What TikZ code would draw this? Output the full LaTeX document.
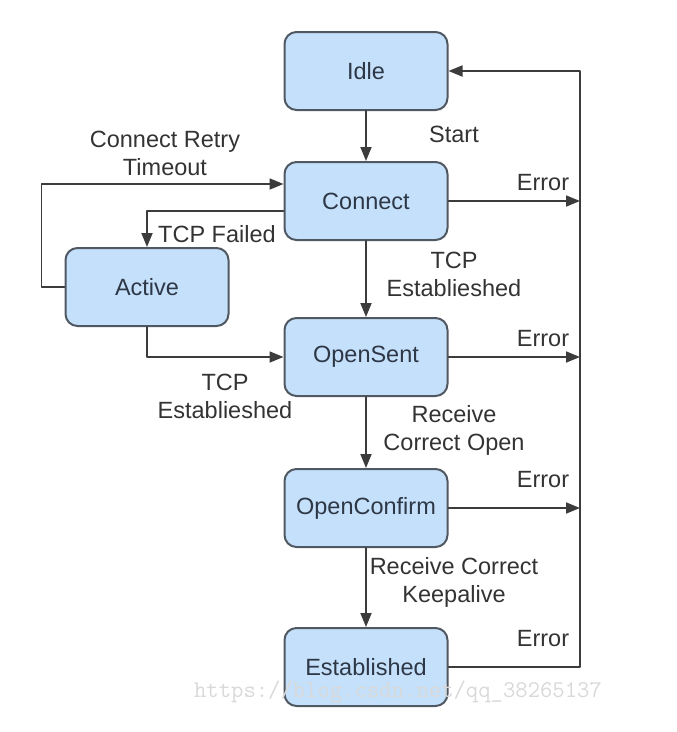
\documentclass[tikz,border=0pt]{standalone}
\usepackage{fontspec}
\setmainfont{Liberation Sans}
\usetikzlibrary{arrows.meta}
\usetikzlibrary{positioning}
\definecolor{boxfill}{RGB}{197,224,250}
\definecolor{boxline}{RGB}{80,88,98}
\definecolor{boxtext}{RGB}{45,55,70}
\definecolor{wire}{RGB}{60,60,60}
\tikzset{
  state/.style={draw=boxline,fill=boxfill,text=boxtext,line width=2pt,rounded corners=12pt,
    minimum width=163pt,minimum height=78pt,font=\fontsize{23.5}{28}\selectfont},
  lbl/.style={text=black!80,align=center,font=\fontsize{23.5}{28}\selectfont,inner sep=0pt},
  link/.style={draw=wire,line width=1.8pt,-{Triangle[length=14pt,width=11pt]}}
}

\begin{document}
\begin{tikzpicture}[line cap=round,line join=round,x=1pt,y=-1pt]
\useasboundingbox (0,0) rectangle (677,732);
% states
\node[state] (idle) at (366,71) {Idle};
\node[state] (connect) at (366,201) {Connect};
\node[state] (active) at (147,287) {Active};
\node[state] (opensent) at (366,357) {OpenSent};
\node[state] (openconfirm) at (366,508) {OpenConfirm};
\node[state] (established) at (366,667) {Established};
% error bus
\coordinate (bustop) at (580,71);
\coordinate (busbot) at (established.east -| bustop);
\draw[link] (established.east) -- (busbot) -- (bustop) -- (idle.east);
\draw[link] (connect.east) -- (connect.east -| bustop);
\draw[link] (opensent.east) -- (opensent.east -| bustop);
\draw[link] (openconfirm.east) -- (openconfirm.east -| bustop);
% main path
\draw[link] (idle) -- (connect);
\draw[link] (connect) -- (opensent);
\draw[link] (opensent) -- (openconfirm);
\draw[link] (openconfirm) -- (established);
% active loop
\draw[link] (active.west) -- ++(-23,0) |- ([yshift=17pt]connect.west);
\draw[link] ([yshift=-10pt]connect.west) -| (active.north);
\draw[link] (active.south) |- (opensent.west);
% labels
\node[lbl] (start) at (454,134) {Start};
\node[lbl] (retry) at (165,153) {Connect Retry\\Timeout};
\node[lbl] (failed) at (217,234) {TCP Failed};
\node[lbl] (tcpr) at (454,274) {TCP\\Establieshed};
\node[lbl] (tcpl) at (225,396) {TCP\\Establieshed};
\node[lbl] (rcvopen) at (454,430) {Receive\\Correct Open};
\node[lbl] (rcvkeep) at (454,582) {Receive Correct\\Keepalive};
\foreach \y in {183,339,480,639}
  \node[lbl] at (543,\y) {Error};
% watermark
\node[text=black!15,font=\ttfamily\fontsize{24}{26}\selectfont,inner sep=0pt] (wm) at (398,692) {https://blog.csdn.net/qq\_38265137};
\end{tikzpicture}
\end{document}
